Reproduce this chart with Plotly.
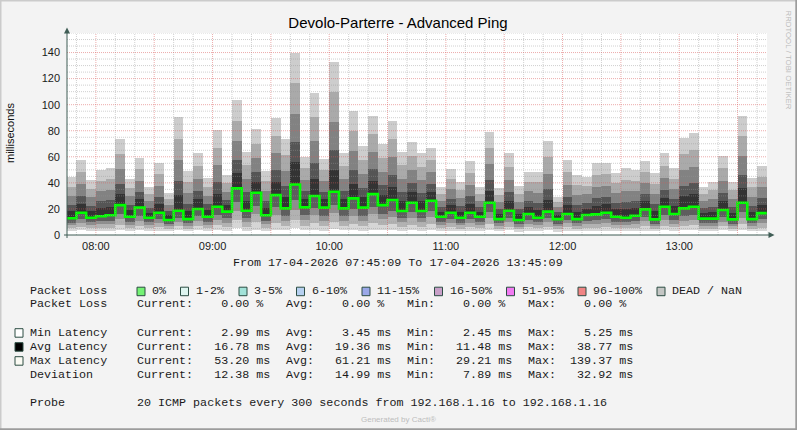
import plotly.graph_objects as go
import pandas as pd

# ---------------- data ----------------
title_text = "Devolo-Parterre - Advanced Ping"
range_start = "2026-04-17 07:45:09"
range_end = "2026-04-17 13:45:09"
first_slot_end = "2026-04-17 07:50:00"
n_slots = 72

avg_latency = [12.8, 17.1, 13.2, 14.4, 15.2, 22.9, 14.0, 21.0, 13.2, 17.1,
               11.5, 18.6, 12.2, 20.0, 14.0, 21.7, 17.9, 35.8, 18.6, 32.4,
               15.2, 30.6, 20.4, 38.8, 21.2, 29.9, 21.0, 33.2, 20.4, 28.1,
               21.0, 31.4, 22.9, 26.8, 18.4, 24.8, 18.4, 26.3, 14.0, 17.1,
               13.2, 17.1, 14.0, 24.8, 12.2, 18.6, 11.5, 16.1, 13.2, 17.9,
               12.2, 16.1, 12.2, 15.3, 15.8, 17.1, 14.0, 13.2, 14.8, 19.7,
               12.0, 21.7, 16.1, 20.4, 21.7, 12.6, 12.6, 19.2, 12.0, 24.8,
               12.2, 16.8]
max_latency = [44.2, 57.5, 42.1, 49.8, 51.1, 73.6, 43.0, 59.4, 37.0, 55.4,
               32.4, 90.6, 49.0, 63.1, 43.7, 80.5, 46.0, 103.4, 63.9, 81.2,
               49.0, 89.9, 73.6, 139.4, 60.0, 108.6, 58.2, 132.6, 62.6, 95.0,
               68.4, 91.2, 70.2, 87.4, 64.0, 71.0, 62.6, 66.9, 37.0, 50.6,
               40.9, 56.7, 37.0, 79.2, 35.8, 62.6, 37.8, 48.5, 48.5, 72.0,
               29.2, 57.5, 46.0, 44.7, 55.4, 55.4, 47.7, 51.1, 49.8, 56.7,
               47.7, 62.6, 51.1, 74.8, 77.9, 37.0, 40.9, 60.8, 40.9, 91.2,
               43.9, 53.2]
min_latency = [3.2, 3.5, 3.1, 3.4, 3.3, 3.8, 3.2, 3.6, 3.0, 3.4,
               2.9, 3.6, 3.1, 3.5, 3.2, 3.9, 3.3, 5.2, 3.4, 4.1,
               3.0, 4.0, 3.5, 5.0, 3.6, 4.2, 3.4, 4.4, 3.5, 3.9,
               3.4, 4.0, 3.6, 3.8, 3.3, 3.7, 3.2, 3.8, 2.8, 3.3,
               2.9, 3.4, 3.0, 3.9, 2.7, 3.5, 2.6, 3.3, 3.0, 3.6,
               2.45, 3.4, 2.9, 3.1, 3.2, 3.3, 3.0, 3.1, 3.2, 3.4,
               2.9, 3.6, 3.2, 3.7, 3.8, 2.8, 2.9, 3.5, 2.9, 4.0,
               3.0, 2.99]

y_ticks = [0, 20, 40, 60, 80, 100, 120, 140]
x_tick_hours = ["08:00", "09:00", "10:00", "11:00", "12:00", "13:00"]

loss_labels = ["0%", "1-2%", "3-5%", "6-10%", "11-15%", "16-50%", "51-95%", "96-100%", "DEAD / NaN"]
loss_colors = ["#74f274", "#ddf4ef", "#a2e2d8", "#b6d0f0", "#9aa8e8", "#c8a0c8", "#f27af2", "#f08484", "#c4c6c4"]

stat_rows = ["Packet Loss", "Min Latency", "Avg Latency", "Max Latency", "Deviation"]
stat_current = [0.00, 2.99, 16.78, 53.20, 12.38]
stat_avg = [0.00, 3.45, 19.36, 61.21, 14.99]
stat_min = [0.00, 2.45, 11.48, 29.21, 7.89]
stat_max = [0.00, 5.25, 38.77, 139.37, 32.92]
stat_units = ["%", "ms", "ms", "ms", "ms"]
stat_box = [None, "#ffffff", "#000000", "#fbfbf4", None]

date_line = "From 17-04-2026 07:45:09 To 17-04-2026 13:45:09"
probe_line = "20 ICMP packets every 300 seconds from 192.168.1.16 to 192.168.1.16"

# ---------------- style ----------------
W, H = 797, 430
L, R, T, B = 67, 767, 33, 235
BG = "#f3f3f3"
AXIS_C = "#3f5d55"
MINOR_C = "rgba(150,150,150,0.45)"
MAJOR_C = "rgba(220,90,90,0.5)"
MONO = "Liberation Mono"
SANS = "Liberation Sans"
NB = "\u00a0"

lower_frac = [0.0, 0.2, 0.43, 0.65, 1.0]          # min -> avg
lower_cols = ["#d6d6d6", "#b2b2b2", "#8e8e8e", "#5e5e5e"]
upper_frac = [0.0, 0.17, 0.32, 0.54, 0.77, 1.0]  # avg -> max
upper_cols = ["#333333", "#555555", "#828282", "#aaaaaa", "#cdcdcd"]


def px_x(px):
    return (px - L) / (R - L)


def px_y(py):
    return (B - py) / (B - T)


slot_end = pd.date_range(first_slot_end, periods=n_slots, freq="5min")
slot_start = slot_end - pd.Timedelta(minutes=5)
centers = slot_end - pd.Timedelta(seconds=150)
bar_w = 300000

fig = go.Figure()

# smoke bands below the average
for k, col in enumerate(lower_cols):
    lo = [mn + lower_frac[k] * (a - mn) for mn, a in zip(min_latency, avg_latency)]
    hi = [mn + lower_frac[k + 1] * (a - mn) for mn, a in zip(min_latency, avg_latency)]
    fig.add_trace(go.Bar(x=centers, base=lo, y=[h - l for h, l in zip(hi, lo)], width=bar_w,
                         marker=dict(color=col, line=dict(width=0)), hoverinfo="skip"))
# smoke bands above the average
for k, col in enumerate(upper_cols):
    lo = [a + upper_frac[k] * (mx - a) for a, mx in zip(avg_latency, max_latency)]
    hi = [a + upper_frac[k + 1] * (mx - a) for a, mx in zip(avg_latency, max_latency)]
    fig.add_trace(go.Bar(x=centers, base=lo, y=[h - l for h, l in zip(hi, lo)], width=bar_w,
                         marker=dict(color=col, line=dict(width=0)), hoverinfo="skip"))

# average latency line (0% loss -> green)
fig.add_trace(go.Scatter(x=list(slot_start) + [slot_end[-1]], y=avg_latency + [avg_latency[-1]],
                         mode="lines", line=dict(color="#00ff00", width=2.6, shape="hv"),
                         hoverinfo="skip"))

shapes = []
# grid (drawn above data like rrdtool)
for v in range(5, 156, 5):
    if v % 20 == 0:
        continue
    shapes.append(dict(type="line", xref="paper", yref="y", x0=0, x1=1, y0=v, y1=v,
                       line=dict(color=MINOR_C, width=1, dash="1px,1px"), layer="above"))
grid_times = pd.date_range("2026-04-17 07:50:00", "2026-04-17 13:40:00", freq="10min")
for t in grid_times:
    if t.minute in (0, 30):
        continue
    shapes.append(dict(type="line", xref="x", yref="paper", x0=t, x1=t, y0=0, y1=1,
                       line=dict(color=MINOR_C, width=1, dash="1px,1px"), layer="above"))
for v in y_ticks[1:]:
    shapes.append(dict(type="line", xref="paper", yref="y", x0=0, x1=1, y0=v, y1=v,
                       line=dict(color=MAJOR_C, width=1, dash="1px,1px"), layer="above"))
for t in grid_times:
    if t.minute in (0, 30):
        shapes.append(dict(type="line", xref="x", yref="paper", x0=t, x1=t, y0=0, y1=1,
                           line=dict(color=MAJOR_C, width=1, dash="1px,1px"), layer="above"))

# axes with arrows
shapes.append(dict(type="line", xref="paper", yref="paper", x0=px_x(67), x1=px_x(67),
                   y0=px_y(238), y1=px_y(31), line=dict(color=AXIS_C, width=1), layer="above"))
shapes.append(dict(type="line", xref="paper", yref="paper", x0=px_x(64), x1=px_x(770),
                   y0=px_y(235), y1=px_y(235), line=dict(color=AXIS_C, width=1), layer="above"))
shapes.append(dict(type="path", xref="paper", yref="paper",
                   path=f"M {px_x(64)} {px_y(33.5)} L {px_x(67)} {px_y(27.5)} L {px_x(70)} {px_y(33.5)} Z",
                   fillcolor=AXIS_C, line=dict(width=0), layer="above"))
shapes.append(dict(type="path", xref="paper", yref="paper",
                   path=f"M {px_x(768.5)} {px_y(232)} L {px_x(774.5)} {px_y(235)} L {px_x(768.5)} {px_y(238)} Z",
                   fillcolor=AXIS_C, line=dict(width=0), layer="above"))

# image border (3d look)
shapes.append(dict(type="line", xref="paper", yref="paper", x0=px_x(0), x1=px_x(797), y0=px_y(0.5), y1=px_y(0.5),
                   line=dict(color="#cbcbcb", width=2)))
shapes.append(dict(type="line", xref="paper", yref="paper", x0=px_x(0.5), x1=px_x(0.5), y0=px_y(0), y1=px_y(430),
                   line=dict(color="#cbcbcb", width=2)))
shapes.append(dict(type="line", xref="paper", yref="paper", x0=px_x(0), x1=px_x(797), y0=px_y(429.3), y1=px_y(429.3),
                   line=dict(color="#9c9c9c", width=2)))
shapes.append(dict(type="line", xref="paper", yref="paper", x0=px_x(796.3), x1=px_x(796.3), y0=px_y(0), y1=px_y(430),
                   line=dict(color="#9c9c9c", width=2)))

annotations = []


def add_text(x, y, text, size=11.7, family=MONO, color="#1a1a1a", anchor="left", angle=0):
    annotations.append(dict(xref="paper", yref="paper", x=px_x(x), y=px_y(y), text=text.replace(" ", NB),
                            showarrow=False, xanchor=anchor, yanchor="middle", textangle=angle,
                            font=dict(family=family, size=size, color=color), borderpad=0))


def add_box(x0, y0, fill):
    shapes.append(dict(type="rect", xref="paper", yref="paper", x0=px_x(x0), x1=px_x(x0 + 8),
                       y0=px_y(y0), y1=px_y(y0 + 8.5), fillcolor=fill,
                       line=dict(color="#2c4d43", width=1)))


# legend block
add_text(398, 262.7, date_line, anchor="center")

loss_box_x = [137, 180.5, 239, 296.5, 362, 434.5, 506.5, 578, 657]
y_row = 290.7
add_text(29, y_row, "Packet Loss")
for bx, lab, col in zip(loss_box_x, loss_labels, loss_colors):
    add_box(bx, y_row - 3.5, col)
    add_text(bx + 14, y_row, lab)

row_y = [304.3, 332.7, 346.7, 360.7, 374.7]
for ry, name, cur, av, mn, mx, unit, box in zip(row_y, stat_rows, stat_current, stat_avg,
                                                stat_min, stat_max, stat_units, stat_box):
    if box is not None:
        add_box(15, ry - 4, box)
    add_text(29, ry, name)
    add_text(136, ry, f"Current:{cur:8.2f} {unit}")
    add_text(285, ry, f"Avg:{av:8.2f} {unit}")
    add_text(406, ry, f"Min:{mn:8.2f} {unit}")
    add_text(527, ry, f"Max:{mx:8.2f} {unit}")

add_text(29, 402.7, "Probe")
add_text(136, 402.7, probe_line)
add_text(398, 419.5, "Generated by Cacti®", size=8, family=SANS, color="#bdbdbd", anchor="center")

# axis title and watermark
add_text(10, 133, "milliseconds", size=11, family=SANS, color="#111111", anchor="center", angle=-90)
add_text(788.5, 60, "RRDTOOL / TOBI OETIKER", size=7.8, family=SANS, color="#bcbcbc", anchor="center", angle=90)

hour_vals = [pd.Timestamp("2026-04-17 " + h) for h in x_tick_hours]

fig.update_layout(
    width=W, height=H, autosize=False,
    margin=dict(l=L, r=W - R, t=T, b=H - B, pad=0),
    paper_bgcolor=BG, plot_bgcolor="#ffffff",
    barmode="overlay", bargap=0, showlegend=False,
    title=dict(text=title_text, x=398 / W, xanchor="center", xref="container",
               y=1 - 23 / H, yanchor="middle", yref="container",
               font=dict(family=SANS, size=15, color="#000000")),
    xaxis=dict(type="date", range=[range_start, range_end], tickvals=hour_vals, ticktext=x_tick_hours,
               showgrid=False, zeroline=False, showline=False, ticks="",
               tickfont=dict(family=SANS, size=11, color="#1a1a1a"), ticklabelstandoff=3),
    yaxis=dict(range=[0, 155], tickvals=y_ticks, ticktext=[str(v) for v in y_ticks],
               showgrid=False, zeroline=False, showline=False, ticks="",
               tickfont=dict(family=SANS, size=11, color="#1a1a1a"), ticklabelstandoff=6),
    shapes=shapes, annotations=annotations,
)

fig.write_html("out.html", config={"displayModeBar": False, "staticPlot": True},
               post_script="document.body.style.margin='0';document.body.style.overflow='hidden';")
